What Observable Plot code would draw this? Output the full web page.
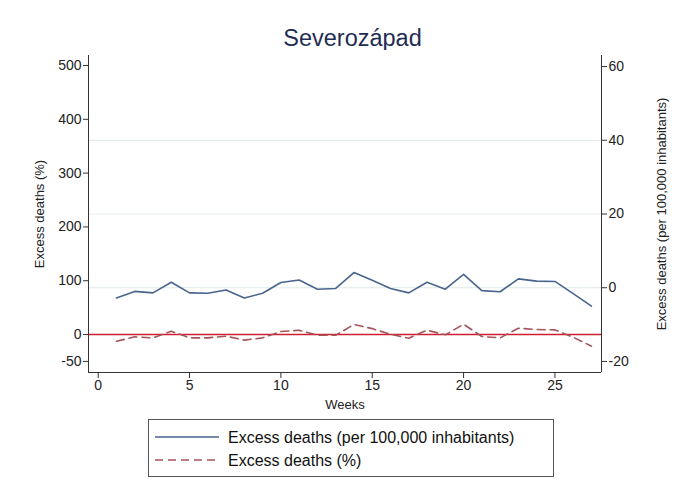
<!DOCTYPE html>
<html>
<head>
<meta charset="utf-8">
<script src="https://cdn.jsdelivr.net/npm/d3@7"></script>
<script src="https://cdn.jsdelivr.net/npm/@observablehq/plot@0.6"></script>
<style>
  body { margin: 0; background: #fff; }
  #wrap { position: relative; width: 693px; height: 495px; font-family: "Liberation Sans", Arial, Helvetica, sans-serif; overflow: hidden; }
  #title { position: absolute; left: 0; top: 27px; width: 705px; text-align: center; font-size: 23.5px; line-height: 23px; color: #1f2d55; }
  #chart { position: absolute; left: 0; top: 50px; }
  #legend { position: absolute; left: 148px; top: 419px; }
</style>
</head>
<body>
<div id="wrap">
  <div id="title">Severozápad</div>
  <div id="chart"></div>
  <div id="legend"></div>
</div>
<script>
const weeks = [1,2,3,4,5,6,7,8,9,10,11,12,13,14,15,16,17,18,19,20,21,22,23,24,25,26,27];
const per100k = [-2.8,-1.0,-1.4,1.5,-1.4,-1.5,-0.6,-2.8,-1.5,1.4,2.1,-0.4,-0.2,4.1,2.0,-0.2,-1.4,1.5,-0.4,3.6,-0.8,-1.1,2.4,1.8,1.7,-1.6,-5.0];
const pct = [-12.5,-4.3,-6.2,6.1,-6.2,-6.2,-3.1,-10.5,-6.2,5.5,8.0,-1.2,-1.5,18.6,11.0,0.5,-6.8,8.0,-0.6,19.1,-3.7,-6.2,11.7,9.3,8.6,-5.0,-21.7];
const leftTicks = [-50,0,100,200,300,400,500];
const rightTicks = [-20,0,20,40,60];
const rightGrid = [0,20,40];
const xTicks = [0,5,10,15,20,25];
const seriesNames = ["Excess deaths (per 100,000 inhabitants)", "Excess deaths (%)"];

const xDomain = [-0.53, 27.55];
const leftDomain = [-70.6, 518.6];
const rightDomain = [-23, 63];
const k = (leftDomain[1] - leftDomain[0]) / (rightDomain[1] - rightDomain[0]);
const toLeft = r => leftDomain[0] + (r - rightDomain[0]) * k;
const fromLeft = l => rightDomain[0] + (l - leftDomain[0]) / k;

const data = weeks.map((w, i) => ({week: w, per100k: per100k[i], pct: pct[i]}));

const blue = "#48658d";
const maroon = "#a5545a";
const axisColor = "#333";
const fontStack = "'Liberation Sans', Arial, Helvetica, sans-serif";

const chart = Plot.plot({
  width: 693,
  height: 364,
  marginTop: 5,
  marginBottom: 42,
  marginLeft: 88,
  marginRight: 92,
  style: {fontFamily: fontStack, fontSize: "14px", color: "#222", background: "#fff"},
  x: {domain: xDomain},
  y: {domain: leftDomain},
  marks: [
    Plot.ruleY(rightGrid.map(toLeft), {stroke: "#e6eeee", strokeWidth: 1.2}),
    Plot.ruleY([0], {stroke: "#cc1f30", strokeWidth: 1.3}),
    Plot.line(data, {x: "week", y: d => toLeft(d.per100k), stroke: blue, strokeWidth: 1.6}),
    Plot.line(data, {x: "week", y: "pct", stroke: maroon, strokeWidth: 1.6, strokeDasharray: "8,5"}),
    Plot.ruleX([xDomain[0]], {stroke: axisColor}),
    Plot.ruleX([xDomain[1]], {stroke: axisColor}),
    Plot.ruleY([leftDomain[0]], {stroke: axisColor}),
    Plot.axisY(leftTicks, {anchor: "left", tickSize: 5, tickPadding: 2, stroke: axisColor,
      tickFormat: d => String(d),
      label: "Excess deaths (%)", labelAnchor: "center", labelArrow: "none", labelOffset: 54}),
    Plot.axisY(rightTicks.map(toLeft), {anchor: "right", tickSize: 5, tickPadding: 2, stroke: axisColor,
      tickFormat: d => String(Math.round(fromLeft(d))),
      label: "Excess deaths (per 100,000 inhabitants)", labelAnchor: "center", labelArrow: "none", labelOffset: 64}),
    Plot.axisX(xTicks, {anchor: "bottom", tickSize: 6, tickPadding: 2, stroke: axisColor,
      tickFormat: d => String(d),
      label: "Weeks", labelAnchor: "center", labelArrow: "none", labelOffset: 36})
  ]
});
// axis titles slightly smaller than tick labels, as in the reference
d3.select(chart).selectAll('g[aria-label$="axis label"] text').style("font-size", "13px");
document.getElementById("chart").appendChild(chart);

// Legend
const lw = 406, lh = 58;
const svg = d3.select("#legend").append("svg").attr("width", lw).attr("height", lh);
svg.append("rect").attr("x", 0.5).attr("y", 0.5).attr("width", lw - 1).attr("height", lh - 1)
  .attr("fill", "#fff").attr("stroke", "#555").attr("stroke-width", 1);
const styles = [{stroke: blue, dash: null}, {stroke: maroon, dash: "8,5"}];
seriesNames.forEach((name, i) => {
  const cy = 18 + i * 23;
  const ln = svg.append("line").attr("x1", 7).attr("x2", 71).attr("y1", cy).attr("y2", cy)
    .attr("stroke", styles[i].stroke).attr("stroke-width", 1.6);
  if (styles[i].dash) ln.attr("stroke-dasharray", styles[i].dash);
  svg.append("text").attr("x", 80).attr("y", cy + 6).text(name)
    .attr("font-size", "16px").attr("fill", "#111")
    .attr("font-family", fontStack);
});
</script>
</body>
</html>
